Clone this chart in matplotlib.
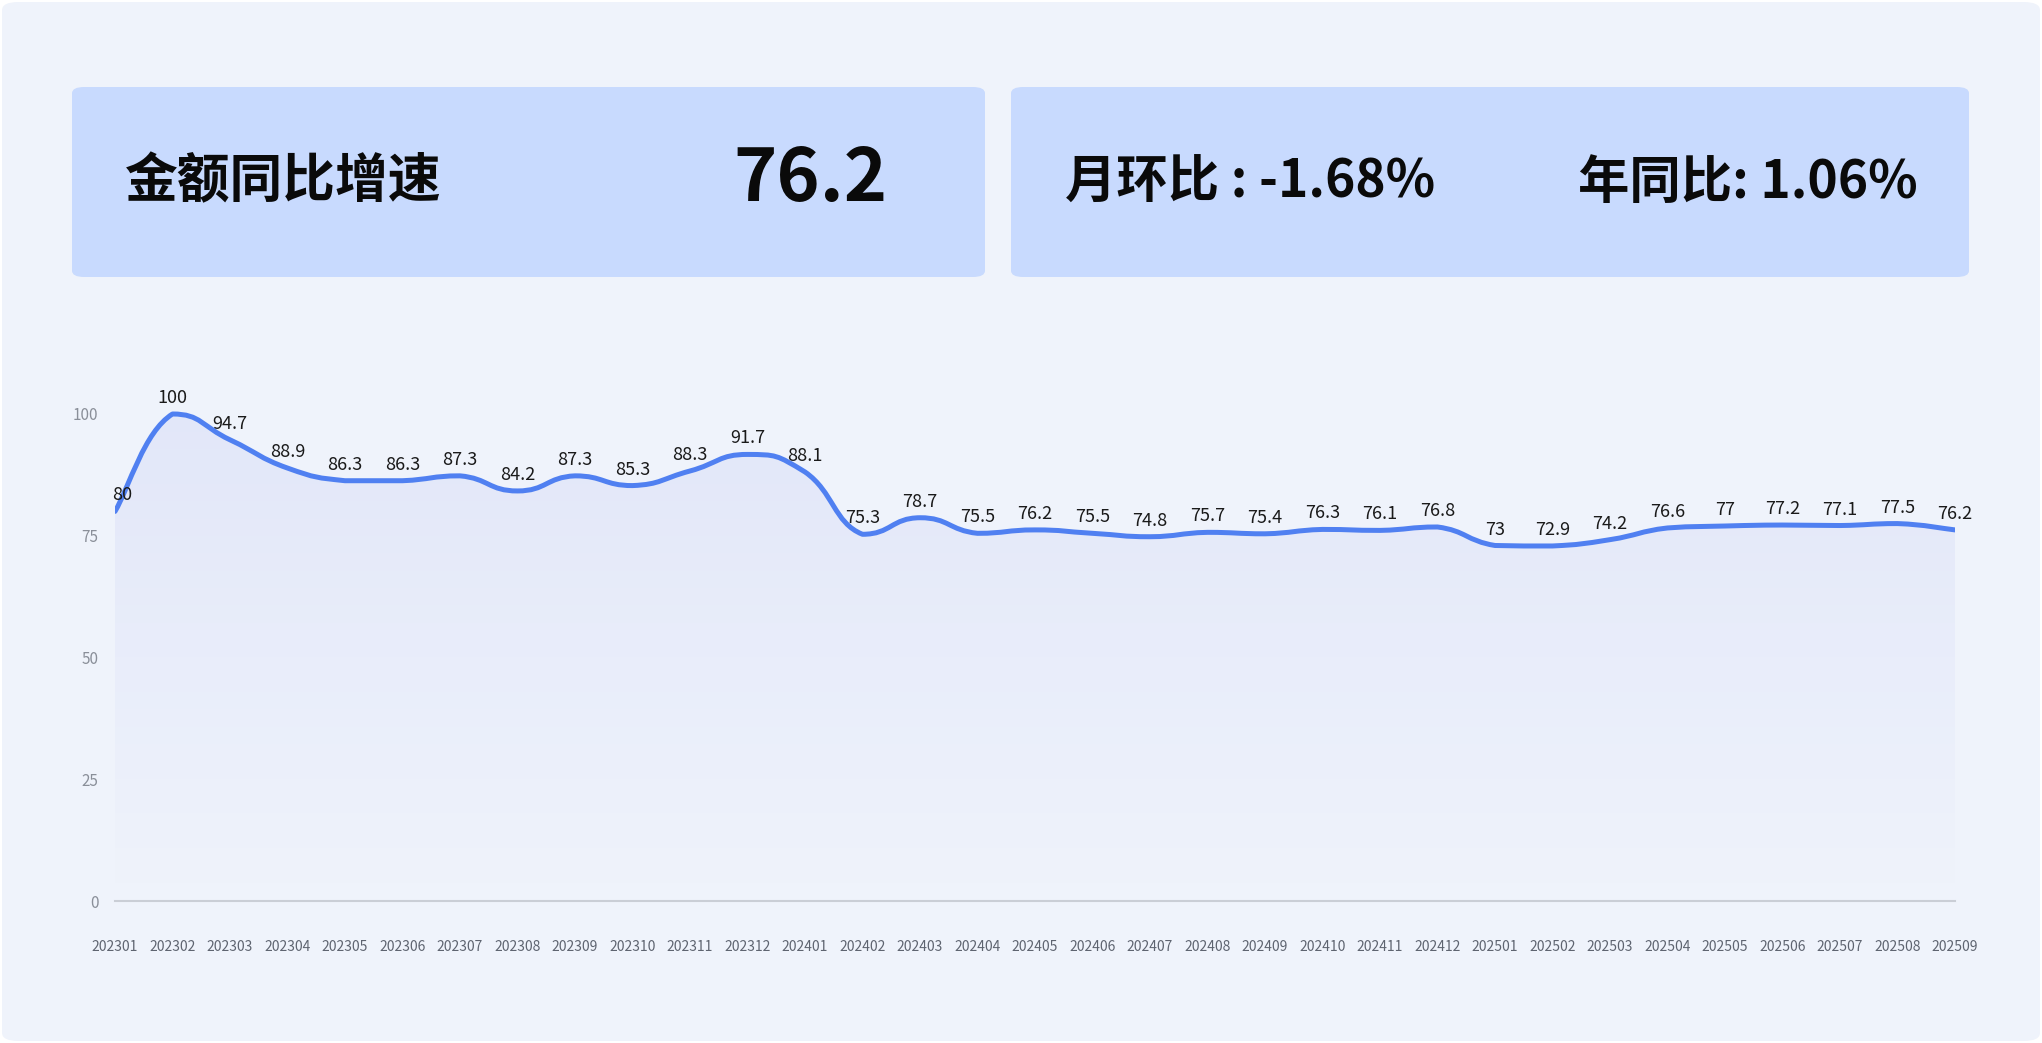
import numpy as np
import matplotlib
matplotlib.use("Agg")
import matplotlib.pyplot as plt
from matplotlib.path import Path
from matplotlib.patches import PathPatch, FancyBboxPatch

plt.rcParams['font.family'] = ['Noto Sans CJK SC', 'DejaVu Sans']

months = ["202301", "202302", "202303", "202304", "202305", "202306", "202307", "202308",
          "202309", "202310", "202311", "202312", "202401", "202402", "202403", "202404",
          "202405", "202406", "202407", "202408", "202409", "202410", "202411", "202412",
          "202501", "202502", "202503", "202504", "202505", "202506", "202507", "202508",
          "202509"]
values = [80, 100, 94.7, 88.9, 86.3, 86.3, 87.3, 84.2, 87.3, 85.3, 88.3, 91.7, 88.1,
          75.3, 78.7, 75.5, 76.2, 75.5, 74.8, 75.7, 75.4, 76.3, 76.1, 76.8, 73, 72.9,
          74.2, 76.6, 77, 77.2, 77.1, 77.5, 76.2]
y_ticks = [0, 25, 50, 75, 100]
kpi_title = "金额同比增速"
kpi_value = "76.2"
mom_text = "月环比 : -1.68%"
yoy_text = "年同比: 1.06%"

W, H = 2042, 1043
BG = "#EFF3FB"
CARD = "#C8DAFE"
LINE = "#5080F1"

fig = plt.figure(figsize=(W / 100, H / 100), dpi=100, facecolor="white")

# outer rounded panel
fig.patches.append(FancyBboxPatch((2 / W, 2 / H), 1 - 4 / W, 1 - 4 / H,
                                  boxstyle="round,pad=0,rounding_size=0.008",
                                  transform=fig.transFigure, facecolor=BG,
                                  edgecolor="none", zorder=0))


def card(x0, y0, x1, y1):
    fig.patches.append(FancyBboxPatch((x0 / W, 1 - y1 / H), (x1 - x0) / W, (y1 - y0) / H,
                                      boxstyle="round,pad=0,rounding_size=0.006",
                                      transform=fig.transFigure, facecolor=CARD,
                                      edgecolor="none", zorder=1))


card(72, 87, 985, 277)
card(1011, 87, 1969, 277)

fig.text(125 / W, 1 - 182 / H, kpi_title, fontsize=38, fontweight="bold",
         ha="left", va="center", color="#0A0A0A", zorder=6)
fig.text(887 / W, 1 - 180 / H, kpi_value, fontsize=53, fontweight="bold",
         ha="right", va="center", color="#0A0A0A", zorder=6)
fig.text(1065 / W, 1 - 182 / H, mom_text, fontsize=37, fontweight="bold",
         ha="left", va="center", color="#0A0A0A", zorder=6)
fig.text(1918 / W, 1 - 182 / H, yoy_text, fontsize=37, fontweight="bold",
         ha="right", va="center", color="#0A0A0A", zorder=6)

# chart axes: data 0 -> y=901px, 100 -> y=414px
y0px, y100px = 901, 414
ymax = 120
top_px = y0px - (y0px - y100px) * ymax / 100
x_left, x_right = 115, 1955
ax = fig.add_axes([x_left / W, 1 - y0px / H, (x_right - x_left) / W, (y0px - top_px) / H])
ax.set_zorder(5)
ax.patch.set_visible(False)
n = len(values)
x = np.arange(n)
y = np.array(values, dtype=float)

# smooth bezier path (echarts-like, with constraint)
k = 0.25
verts = [(x[0], y[0])]
codes = [Path.MOVETO]
for i in range(n - 1):
    ip = max(i - 1, 0)
    inx = min(i + 2, n - 1)
    c1x = x[i] + k * (x[i + 1] - x[ip])
    c1y = y[i] + k * (y[i + 1] - y[ip])
    c2x = x[i + 1] - k * (x[inx] - x[i])
    c2y = y[i + 1] - k * (y[inx] - y[i])
    lo, hi = min(y[i], y[i + 1]), max(y[i], y[i + 1])
    c1y = min(max(c1y, lo), hi)
    c2y = min(max(c2y, lo), hi)
    verts += [(c1x, c1y), (c2x, c2y), (x[i + 1], y[i + 1])]
    codes += [Path.CURVE4, Path.CURVE4, Path.CURVE4]

line_path = Path(verts, codes)
ax.add_patch(PathPatch(line_path, facecolor="none", edgecolor=LINE, lw=3.6,
                       capstyle="round", joinstyle="round", zorder=4))

fill_verts = verts + [(x[-1], 0), (x[0], 0), (x[0], y[0])]
fill_codes = codes + [Path.LINETO, Path.LINETO, Path.CLOSEPOLY]
fill_patch = PathPatch(Path(fill_verts, fill_codes), facecolor="none", edgecolor="none",
                       transform=ax.transData)
ax.add_patch(fill_patch)
grad = np.zeros((256, 2, 4))
tint = np.array([0.48, 0.52, 0.92])
alphas = np.linspace(0.0, 0.11, 256)[:, None]
grad[:, :, :3] = tint
grad[:, :, 3] = alphas
im = ax.imshow(grad, extent=[0, n - 1, 0, 100], origin="lower", aspect="auto",
               interpolation="bilinear", zorder=2)
im.set_clip_path(fill_patch)
ax.set_xlim(0, n - 1)
ax.set_ylim(0, ymax)

for i, (xi, yi, v) in enumerate(zip(x, y, values)):
    lab = f"{v:g}"
    ha = "left" if i == 0 else "center"
    dx = -2 if i == 0 else 0
    ax.annotate(lab, (xi, yi), xytext=(dx, 5), textcoords="offset points",
                ha=ha, va="bottom", fontsize=13, color="#1A1A1A", zorder=5,
                annotation_clip=False)

ax.set_xticks(x)
ax.set_xticklabels(months, fontsize=10, color="#5E6470")
ax.set_yticks(y_ticks)
ax.set_yticklabels([str(t) for t in y_ticks], fontsize=11, color="#8A8F99")
ax.tick_params(axis="both", length=0)
ax.tick_params(axis="x", pad=28)
ax.tick_params(axis="y", pad=12)
for s in ["top", "right", "left"]:
    ax.spines[s].set_visible(False)
ax.spines["bottom"].set_color("#CACED6")
ax.spines["bottom"].set_linewidth(1.5)

fig.savefig("out.png", dpi=100, facecolor="white")
